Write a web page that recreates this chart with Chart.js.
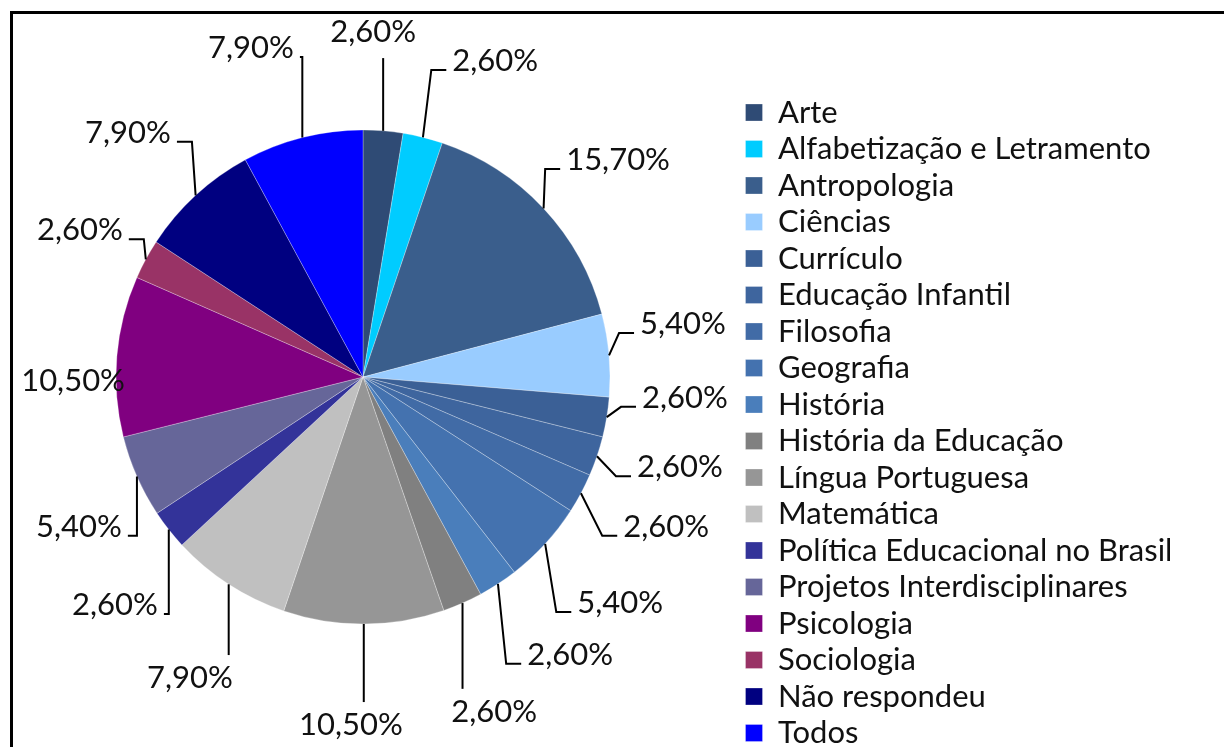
<!DOCTYPE html>
<html>
<head>
<meta charset="utf-8">
<script src="https://cdn.jsdelivr.net/npm/chart.js@4.4.0/dist/chart.umd.min.js"></script>
<style>
  html, body { margin: 0; padding: 0; background: #fff; overflow: hidden; width: 1224px; height: 747px; }
  #wrap { position: absolute; left: -14px; top: 0; width: 1400px; height: 754px; }
  #frame { position: absolute; left: 10px; top: 11px; width: 1400px; height: 900px;
           border-top: 3px solid #000; border-left: 3px solid #000; pointer-events: none; }
</style>
</head>
<body>
<div id="wrap"><canvas id="pieChart"></canvas></div>
<div id="frame"></div>
<script>
// categorias (legenda)
var categories = [
    'Arte', 'Alfabetização e Letramento', 'Antropologia', 'Ciências', 'Currículo',
    'Educação Infantil', 'Filosofia', 'Geografia', 'História', 'História da Educação',
    'Língua Portuguesa', 'Matemática', 'Política Educacional no Brasil',
    'Projetos Interdisciplinares', 'Psicologia', 'Sociologia', 'Não respondeu', 'Todos'
];

// percentuais de cada fatia
var percentages = [2.6, 2.6, 15.7, 5.4, 2.6, 2.6, 2.6, 5.4, 2.6, 2.6, 10.5, 7.9, 2.6, 5.4, 10.5, 2.6, 7.9, 7.9];

var sliceColors = [
    '#2f4b75', '#00ccff', '#3a5e8c', '#99ccff', '#3b6096',
    '#3e659e', '#416ba6', '#4472af', '#4a7ebb', '#808080',
    '#969696', '#c0c0c0', '#333399', '#666699', '#800080',
    '#993366', '#000080', '#0000ff'
];

// onde fica cada rotulo: angulo (graus, a partir do topo) e distancia em raios
var labelAngles = [1.7, 22.7, 49.6, 80.6, 93.7, 105.9, 116.3, 131.3, 143.3, 158.6, 182.0, 209.9, 227.4, 242.2, 269.2, 297.4, 316.1, 341.2];
var labelDistances = [1.397, 1.387, 1.356, 1.313, 1.306, 1.334, 1.369, 1.386, 1.403, 1.456, 1.410, 1.406, 1.364, 1.300, 1.174, 1.291, 1.372, 1.407];

var FONT_SIZE = 31;
var LEGEND_PAD = 5.5;   // 31 + 5.5 = 36.5 entre linhas
var BOX = 17;
var PIE_AREA = 754;     // largura da area do grafico (centro da pizza)
var CANVAS_W = 1400;

function formatPct(v) {
    return v.toFixed(2).replace('.', ',') + '%';
}

// rotulos de fora com linha de chamada (estilo excel)
var outsideLabels = {
    id: 'outsideLabels',
    afterDatasetsDraw: function(chart) {
        var ctx = chart.ctx;
        var arcs = chart.getDatasetMeta(0).data;
        ctx.save();
        ctx.font = FONT_SIZE + 'px Lato';
        ctx.textAlign = 'center';
        ctx.textBaseline = 'middle';
        ctx.strokeStyle = '#000';
        ctx.lineWidth = 2;
        ctx.fillStyle = '#111';

        arcs.forEach(function(arc, i) {
            var p = arc.getProps(['x', 'y', 'startAngle', 'endAngle', 'outerRadius'], true);
            var mid = (p.startAngle + p.endAngle) / 2;
            var ex = p.x + p.outerRadius * Math.cos(mid);
            var ey = p.y + p.outerRadius * Math.sin(mid);

            var a = labelAngles[i] * Math.PI / 180 - Math.PI / 2;
            var cx = p.x + labelDistances[i] * p.outerRadius * Math.cos(a);
            var cy = p.y + labelDistances[i] * p.outerRadius * Math.sin(a);

            var text = formatPct(percentages[i]);
            var w = ctx.measureText(text).width;
            var left = cx - w / 2 - 6;
            var right = cx + w / 2 + 6;
            var pts;

            if (ex >= left && ex <= right) {
                // rotulo em cima ou embaixo -> linha reta
                var ty = cy < ey ? cy + 26 : cy - 23;
                pts = [[ex, ey], [ex, ty]];
            } else {
                var ax = ex < left ? left : right;
                var ay = cy + 9;
                var kx = ex < left ? ax - Math.min(15, left - ex) : ax + Math.min(15, ex - right);
                pts = [[ex, ey], [kx, ay], [ax, ay]];
            }

            var len = Math.abs(pts[pts.length - 1][0] - ex) + Math.abs(pts[pts.length - 1][1] - ey);
            if (len > 6) {
                ctx.beginPath();
                ctx.moveTo(pts[0][0], pts[0][1]);
                for (var k = 1; k < pts.length; k++) {
                    ctx.lineTo(pts[k][0], pts[k][1]);
                }
                ctx.stroke();
            }
            ctx.fillText(text, cx, cy);
        });
        ctx.restore();
    }
};

document.addEventListener('DOMContentLoaded', function() {
    Chart.defaults.font.family = 'Lato';

    // mede a legenda para ela comecar logo depois da area da pizza
    var m = document.createElement('canvas').getContext('2d');
    m.font = FONT_SIZE + 'px Lato';
    var maxText = 0;
    categories.forEach(function(c) {
        maxText = Math.max(maxText, m.measureText(c).width);
    });
    var legendWidth = LEGEND_PAD + BOX + FONT_SIZE / 2 + maxText + 10;
    var padRight = CANVAS_W - PIE_AREA - legendWidth;

    var ctx = document.getElementById('pieChart').getContext('2d');

    var chart = new Chart(ctx, {
        type: 'pie',
        data: {
            labels: categories,
            datasets: [{
                data: percentages,
                backgroundColor: sliceColors,
                borderColor: 'rgba(255, 255, 255, 0.35)',
                borderWidth: 0.8
            }]
        },
        options: {
            responsive: true,
            maintainAspectRatio: false,
            animation: false,
            events: [],
            radius: 247,
            layout: {
                padding: { left: 0, right: padRight, top: 0, bottom: 0 }
            },
            plugins: {
                tooltip: { enabled: false },
                legend: {
                    position: 'right',
                    align: 'end',
                    labels: {
                        boxWidth: BOX,
                        boxHeight: BOX,
                        padding: LEGEND_PAD,
                        color: '#111',
                        font: { family: 'Lato', size: FONT_SIZE }
                    }
                }
            }
        },
        plugins: [outsideLabels]
    });
});
</script>
</body>
</html>
